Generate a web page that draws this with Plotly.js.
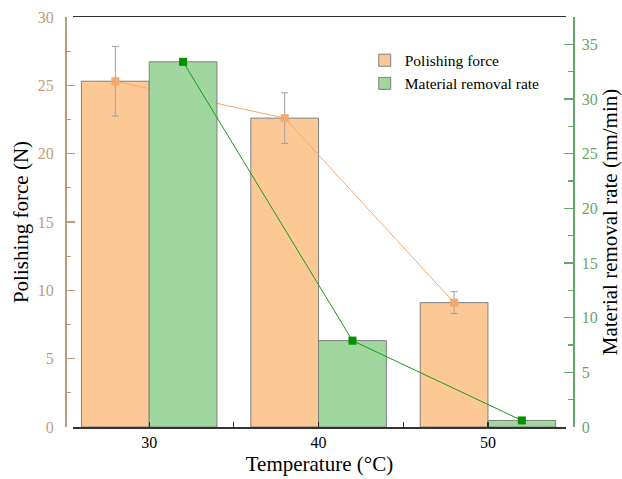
<!DOCTYPE html>
<html>
<head>
<meta charset="utf-8">
<script src="https://cdn.plot.ly/plotly-3.0.1.min.js"></script>
<style>html,body{margin:0;padding:0;background:#fff;}#chart{width:622px;height:479px;}</style>
</head>
<body>
<div id="chart"></div>
<script>
const temperatures = [30, 40, 50];
const xTickVals = [30, 35, 40, 45, 50];
const xTickText = ['30', '', '40', '', '50'];
const polishingForce = [25.3, 22.6, 9.1];
const polishingForceErr = [2.55, 1.85, 0.8];
const removalRate = [33.4, 7.9, 0.6];

const barW = 4;
const forceX = temperatures.map(t => t - barW / 2);
const rateX = temperatures.map(t => t + barW / 2);

const serif = 'Liberation Serif, Times New Roman, serif';
const tan = '#c19c7c';
const greenAx = '#66a666';

const traces = [
  {type: 'bar', name: 'Polishing force', x: temperatures, y: polishingForce,
   width: barW, offset: -barW, yaxis: 'y',
   marker: {color: '#fcc896', line: {color: '#7f7f7f', width: 1}}},
  {type: 'bar', name: 'Material removal rate', x: temperatures, y: removalRate,
   width: barW, offset: 0, yaxis: 'y2',
   marker: {color: '#9fd79f', line: {color: '#7f7f7f', width: 1}}},
  {type: 'scatter', mode: 'lines+markers', x: forceX, y: polishingForce, yaxis: 'y',
   showlegend: false,
   line: {color: '#f5a96c', width: 1},
   marker: {symbol: 'square', size: 8, color: '#f5a96c'},
   error_y: {type: 'data', array: polishingForceErr, visible: true, color: '#a0a0a0', thickness: 1, width: 3.5}},
  {type: 'scatter', mode: 'lines+markers', x: rateX, y: removalRate, yaxis: 'y2',
   showlegend: false,
   line: {color: '#1a9a1a', width: 1},
   marker: {symbol: 'square', size: 8, color: '#009000'}}
];

const layout = {
  width: 622, height: 479,
  margin: {l: 65, r: 49, t: 17, b: 52},
  paper_bgcolor: '#fff', plot_bgcolor: '#fff',
  barmode: 'overlay',
  font: {family: serif, size: 16, color: '#000'},
  showlegend: true,
  legend: {x: 0.59, y: 0.935, xanchor: 'left', yanchor: 'top', bgcolor: 'rgba(0,0,0,0)',
           font: {family: serif, size: 15.5, color: '#000'}, itemwidth: 30, tracegroupgap: 0},
  xaxis: {
    domain: [0.0157, 0.986],
    range: [25.5, 54.6],
    tickmode: 'array', tickvals: xTickVals, ticktext: xTickText,
    ticks: 'inside', ticklen: 5, tickcolor: '#333', tickwidth: 1.2,
    showline: true, linecolor: '#333', linewidth: 1.5, mirror: true,
    showgrid: false, zeroline: false,
    tickfont: {family: serif, size: 16, color: '#000'},
    title: {text: 'Temperature (°C)', font: {family: serif, size: 21, color: '#000'}, standoff: 6}
  },
  yaxis: {
    anchor: 'free', position: 0,
    range: [0, 30],
    tickmode: 'linear', tick0: 0, dtick: 5,
    ticks: 'inside', ticklen: 8, tickcolor: tan, tickwidth: 1.2,
    minor: {ticks: 'inside', ticklen: 4, dtick: 2.5, tickcolor: tan, tickwidth: 1.2},
    showline: true, linecolor: tan, linewidth: 1.5,
    showgrid: false, zeroline: false,
    ticklabelstandoff: 8,
    tickfont: {family: serif, size: 16, color: tan},
    title: {text: 'Polishing force (N)', font: {family: serif, size: 21, color: '#000'}, standoff: 2}
  },
  yaxis2: {
    overlaying: 'y', side: 'right', anchor: 'free', position: 1,
    range: [0, 37.5],
    tickmode: 'linear', tick0: 0, dtick: 5,
    ticks: 'inside', ticklen: 9, tickcolor: greenAx, tickwidth: 1.2,
    minor: {ticks: 'inside', ticklen: 5, dtick: 2.5, tickcolor: greenAx, tickwidth: 1.2},
    showline: true, linecolor: greenAx, linewidth: 1.5,
    showgrid: false, zeroline: false,
    ticklabelstandoff: 4,
    tickfont: {family: serif, size: 16, color: greenAx},
    title: {text: 'Material removal rate (nm/min)', font: {family: serif, size: 21, color: '#000'}, standoff: 8}
  }
};

Plotly.newPlot('chart', traces, layout, {displayModeBar: false, staticPlot: true});
</script>
</body>
</html>
